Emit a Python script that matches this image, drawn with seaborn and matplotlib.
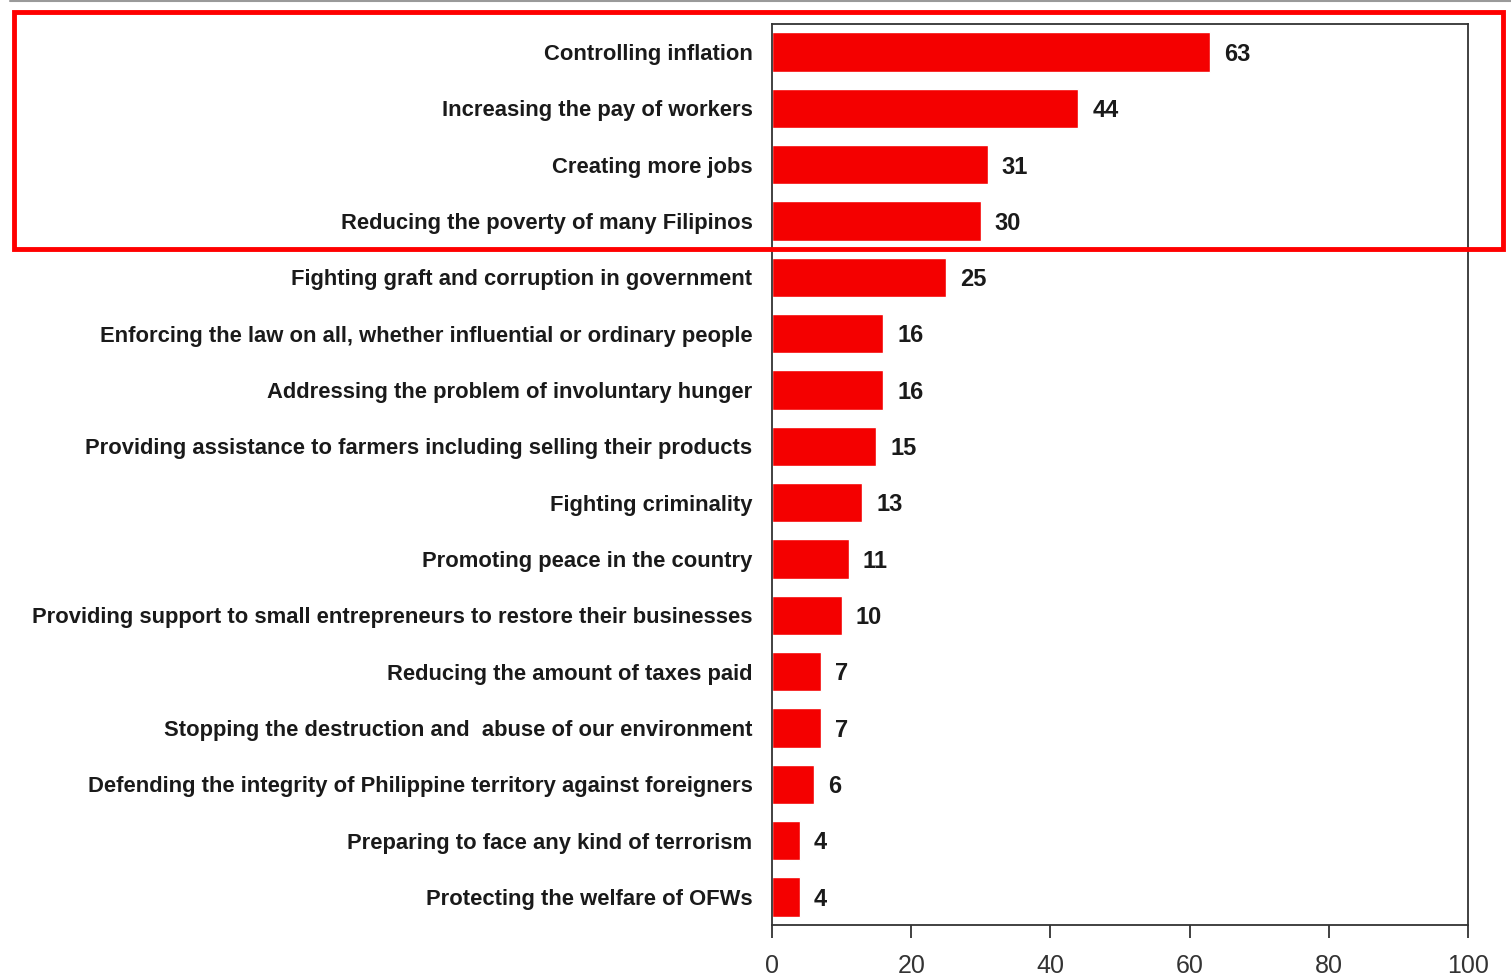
import matplotlib
matplotlib.use("Agg")
import matplotlib.pyplot as plt
from matplotlib.patches import Rectangle
import seaborn as sns
import pandas as pd

sns.set_theme(style="white")
plt.rcParams["font.family"] = ["Liberation Sans", "DejaVu Sans"]

priorities = [
    "Controlling inflation",
    "Increasing the pay of workers",
    "Creating more jobs",
    "Reducing the poverty of many Filipinos",
    "Fighting graft and corruption in government",
    "Enforcing the law on all, whether influential or ordinary people",
    "Addressing the problem of involuntary hunger",
    "Providing assistance to farmers including selling their products",
    "Fighting criminality",
    "Promoting peace in the country",
    "Providing support to small entrepreneurs to restore their businesses",
    "Reducing the amount of taxes paid",
    "Stopping the destruction and  abuse of our environment",
    "Defending the integrity of Philippine territory against foreigners",
    "Preparing to face any kind of terrorism",
    "Protecting the welfare of OFWs",
]
percent = [63, 44, 31, 30, 25, 16, 16, 15, 13, 11, 10, 7, 7, 6, 4, 4]
x_ticks = [0, 20, 40, 60, 80, 100]

df = pd.DataFrame({"priority": priorities, "percent": percent})

W, H = 1511, 980
fig = plt.figure(figsize=(W / 100, H / 100), dpi=100)
ax = fig.add_axes([772 / W, 1 - 925 / H, (1468 - 772) / W, (925 - 24) / H])

sns.barplot(data=df, x="percent", y="priority", orient="h", color="#f40000",
            saturation=1, width=0.7, ax=ax)

for i, v in enumerate(percent):
    ax.text(v + 2.0, i + 0.04, str(v), va="center", ha="left", fontsize=17,
            fontweight="bold", color="#1a1a1a")

ax.set_xlim(0, 100)
ax.set_ylim(len(priorities) - 0.5, -0.5)
ax.set_xticks(x_ticks)
ax.set_xticklabels([str(t) for t in x_ticks], fontsize=18, color="#333333")
ax.set_xlabel("")
ax.set_ylabel("")
ax.tick_params(axis="y", length=0, pad=14, labelsize=15.8, labelcolor="#1a1a1a")
for lbl in ax.get_yticklabels():
    lbl.set_fontweight("bold")
ax.tick_params(axis="x", bottom=True, length=9, width=1.3, color="#333333",
               pad=12, direction="out")
for s in ax.spines.values():
    s.set_color("#333333")
    s.set_linewidth(1.3)

# highlight frame around the top four priorities
fig.patches.append(Rectangle((14 / W, 1 - 249 / H), (1503 - 14) / W, (249 - 12) / H,
                             transform=fig.transFigure, fill=False,
                             edgecolor="#ff0000", linewidth=3.5, zorder=10))
fig.add_artist(plt.Line2D([10 / W, 1], [1 - 1 / H, 1 - 1 / H],
                          transform=fig.transFigure, color="#9a9a9a", linewidth=1.5))

fig.savefig("out.png", dpi=100)
